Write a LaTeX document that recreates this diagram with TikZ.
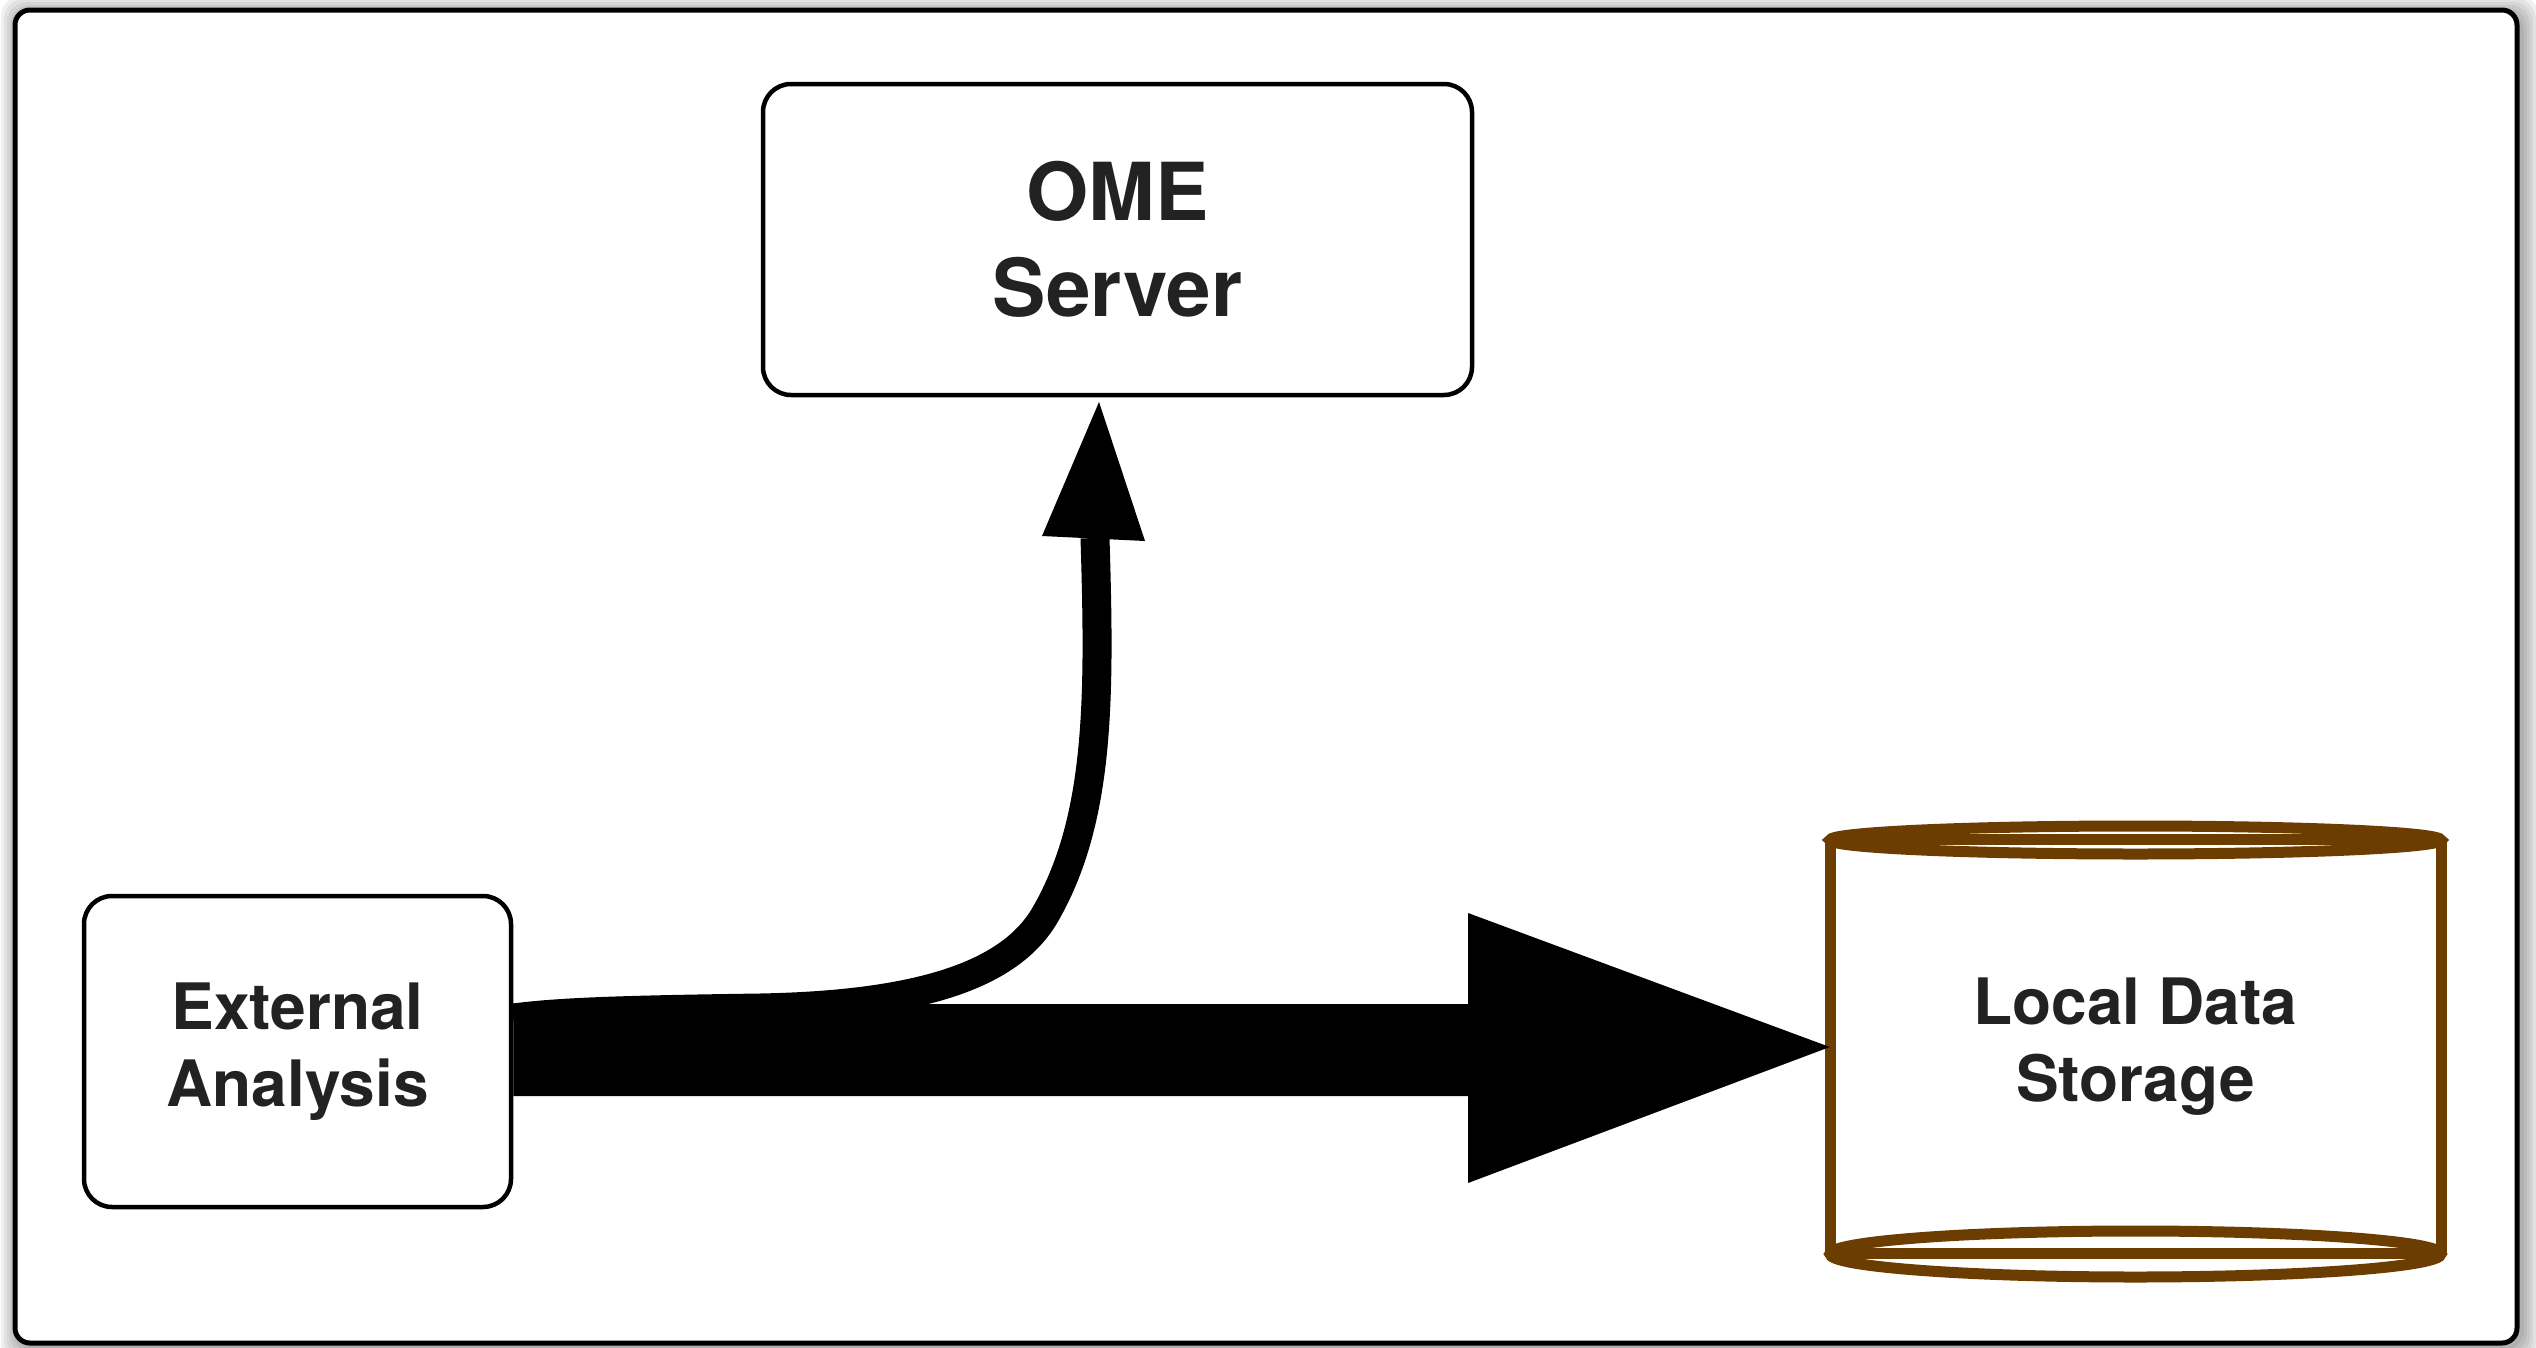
\documentclass[tikz,border=0pt]{standalone}
\usepackage{fontspec}
\setmainfont{TeX Gyre Heros}
\definecolor{brownc}{RGB}{108,61,0}
\definecolor{textc}{RGB}{34,34,34}
\begin{document}
\begin{tikzpicture}[x=1pt,y=-1pt,
  box/.style={draw=black, line width=4.5pt, rounded corners=28pt, fill=white, inner sep=0pt,
    text=textc, align=center, font=\bfseries\fontsize{64}{77}\selectfont},
  bigtext/.style={font=\bfseries\fontsize{80}{96}\selectfont},
  store/.style={draw=brownc, line width=11pt},
  shadowlayer/.style={fill=black, opacity=0.06, rounded corners=20pt},
]
\useasboundingbox (0,0) rectangle (2536,1347);
% shadow and frame
\foreach \r in {3,6,...,18} {
  \fill[shadowlayer] (15-\r+4,10-\r+4) rectangle (2517+\r+4,1343+\r+4);
}
\draw[line width=5pt, rounded corners=15pt, fill=white] (15,10) rectangle (2517,1343);

% nodes
\node[box, bigtext, minimum width=709pt, minimum height=311pt] (ome) at (1117.5,239.5) {OME\\Server};
\node[box, minimum width=427pt, minimum height=311pt] (ext) at (297.5,1051.5) {External\\Analysis};

% data store cylinder
\draw[store] (1830,840) -- (1830,1254);
\draw[store] (2441,840) -- (2441,1254);
\draw[store] (2135.5,840) ellipse [x radius=305.5, y radius=14];
\draw[store] (1830,839) -- (2441,839);
\draw[store] (2135.5,1254) ellipse [x radius=305.5, y radius=23];
\draw[store] (1830,1253) -- (2441,1253);
\node[inner sep=0pt, minimum width=611pt, minimum height=414pt, text=textc, align=center,
  font=\bfseries\fontsize{64}{77}\selectfont] (lds) at (2135.5,1047) {Local Data\\Storage};

% curved arrow to OME Server
\coordinate (c0) at (ext.east |- 0,1018);
\coordinate (tip) at (1099,402);
\draw[line width=29pt] (c0) .. controls (560,1012) and (620,1010) .. (760,1008)
  .. controls (920,1005) and (1010,975) .. (1045,915)
  .. controls (1100,820) and (1100,700) .. (1095,538);
\fill (tip) -- (1145,541) -- (1042,536) -- cycle;

% big arrow to Local Data Storage
\fill (ext.east |- 0,1004) -- (1468,1004) -- (1468,913) -- (lds.west) -- (1468,1183)
  -- (1468,1096) -- (ext.east |- 0,1096) -- cycle;
\end{tikzpicture}
\end{document}
